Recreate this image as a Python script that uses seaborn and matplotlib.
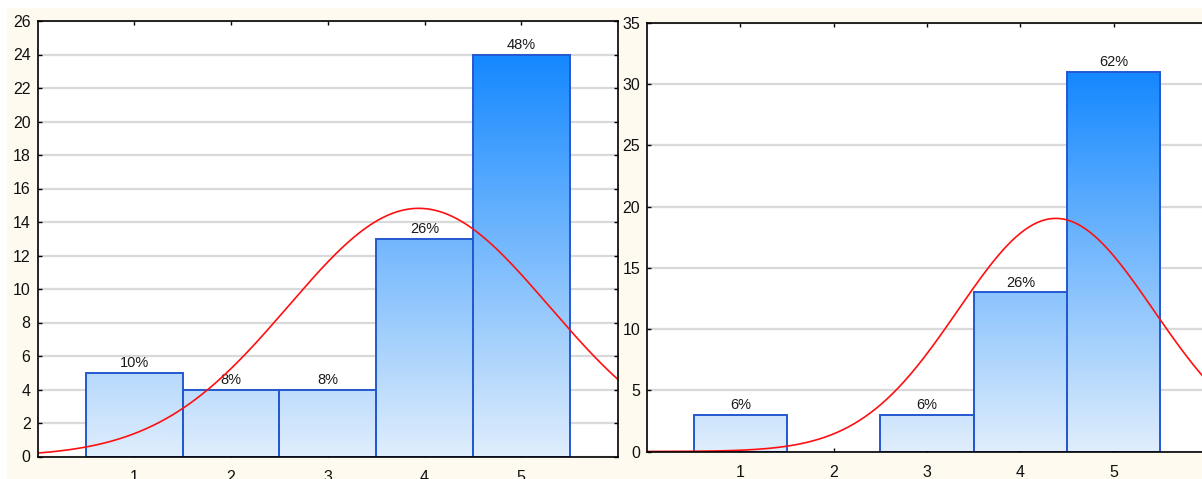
import numpy as np
import pandas as pd
import seaborn as sns
import matplotlib.pyplot as plt
from matplotlib.colors import LinearSegmentedColormap
from matplotlib.patches import Rectangle

# values
scores = [1, 2, 3, 4, 5]
counts_left = [5, 4, 4, 13, 24]
counts_right = [3, 0, 3, 13, 31]
pct_left = ["10%", "8%", "8%", "26%", "48%"]
pct_right = ["6%", "", "6%", "26%", "62%"]
yticks_left = list(range(0, 27, 2))
yticks_right = list(range(0, 36, 5))

blues = LinearSegmentedColormap.from_list("bars", ["#e0eefc", "#1488ff"])

sns.set_theme(style="ticks")
plt.rcParams["font.family"] = ["Liberation Sans", "DejaVu Sans"]


def draw_panel(ax, counts, labels, yticks):
    df = pd.DataFrame({"score": scores, "count": counts})
    sns.barplot(data=df, x="score", y="count", native_scale=True, width=1,
                fill=False, color="#2458d0", linewidth=1.4, errorbar=None,
                ax=ax, zorder=3)

    # vertical gradient, colour tied to the height within the panel
    top = max(counts)
    grad = np.linspace(0, 1, 256).reshape(-1, 1)
    for bar in ax.patches:
        if bar.get_height() <= 0:
            bar.set_visible(False)
            continue
        x0, w = bar.get_x(), bar.get_width()
        img = ax.imshow(grad, cmap=blues, origin="lower", aspect="auto",
                        extent=[x0, x0 + w, 0, top], zorder=2,
                        interpolation="bilinear")
        img.set_clip_path(bar)

    ax.bar_label(ax.containers[0], labels=labels, padding=2, fontsize=10.5,
                 color="#1a1a1a")

    # fitted normal curve
    vals = np.repeat(scores, counts)
    mu, sd = vals.mean(), vals.std(ddof=1)
    xs = np.linspace(0, 6, 400)
    ys = len(vals) * np.exp(-0.5 * ((xs - mu) / sd) ** 2) / (sd * np.sqrt(2 * np.pi))
    sns.lineplot(x=xs, y=ys, color="#ff1010", linewidth=1.2, ax=ax, zorder=4)

    ax.set_xlim(0, 6)
    ax.set_ylim(0, yticks[-1])
    ax.set_xticks(scores)
    ax.set_yticks(yticks)
    ax.set(xlabel="", ylabel="")
    ax.set_facecolor("white")
    ax.yaxis.grid(True, color="#d9d9d9", linewidth=1.6)
    ax.set_axisbelow(True)
    ax.tick_params(axis="both", direction="in", length=3, width=1,
                   top=True, right=True, labelsize=11.5, colors="black",
                   labelcolor="#111111")
    ax.tick_params(axis="y", pad=5)
    ax.tick_params(axis="x", pad=10)
    for sp in ax.spines.values():
        sp.set_visible(True)
        sp.set_color("black")
        sp.set_linewidth(1.2)
        sp.set_zorder(5)


W, H = 1202, 479
fig = plt.figure(figsize=(W / 100, H / 100), dpi=100)
fig.patch.set_facecolor("white")
fig.add_artist(Rectangle((7 / W, 0), 1, 1 - 8 / H, transform=fig.transFigure,
                         facecolor="#fffaf0", edgecolor="none", zorder=0))

ax1 = fig.add_axes([37.5 / W, 1 - 456.5 / H, (618 - 37.5) / W, (456.5 - 21) / H])
ax2 = fig.add_axes([647 / W, 1 - 451.5 / H, (1207 - 647) / W, (451.5 - 23) / H])

draw_panel(ax1, counts_left, pct_left, yticks_left)
draw_panel(ax2, counts_right, pct_right, yticks_right)

fig.savefig("out.png", dpi=100)
